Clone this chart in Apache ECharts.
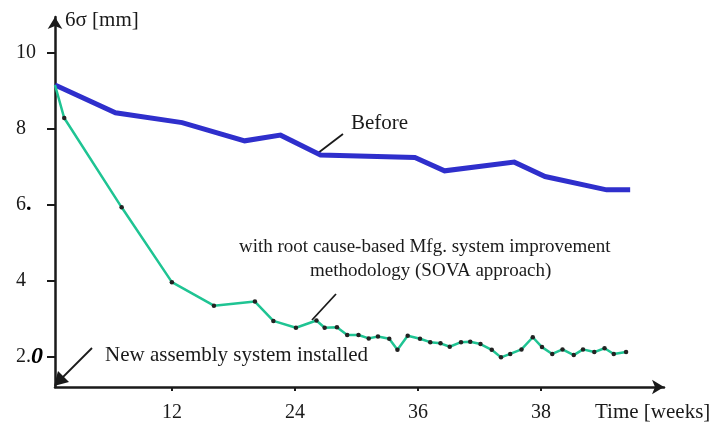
<!DOCTYPE html>
<html>
<head>
<meta charset="utf-8">
<script src="https://cdn.jsdelivr.net/npm/echarts@6/dist/echarts.min.js"></script>
<style>
  html, body { margin: 0; padding: 0; background: #fff; }
  #main { width: 714px; height: 425px; }
</style>
</head>
<body>
<div id="main"></div>
<script>
// x tick positions (weeks) and the labels printed under them
const xTickValues = [12, 24, 36, 48];
const xTickLabels = ['12', '24', '36', '38'];
// y tick positions and labels
const yTickValues = [2, 4, 6, 8, 10];
const yTickLabels = ['2.0', '4', '6.', '8', '10'];

// "Before" series [week, 6 sigma]
const beforeData = [
  [0.6, 9.15], [6.5, 8.42], [13.0, 8.16], [19.1, 7.68], [22.6, 7.83],
  [26.5, 7.31], [35.7, 7.24], [38.6, 6.89], [45.4, 7.12], [48.4, 6.74],
  [54.4, 6.39], [56.7, 6.39]
];

// "with root cause-based ..." series [week, 6 sigma]
const sovaData = [
  [0.6, 9.15], [1.5, 8.28], [7.1, 5.93], [12.0, 3.96], [16.1, 3.34],
  [20.1, 3.45], [21.9, 2.94], [24.1, 2.76], [26.1, 2.95], [26.9, 2.76],
  [28.1, 2.77], [29.1, 2.57], [30.2, 2.57], [31.2, 2.48], [32.1, 2.53],
  [33.2, 2.47], [34.0, 2.18], [35.0, 2.55], [36.2, 2.47], [37.2, 2.38],
  [38.2, 2.35], [39.1, 2.26], [40.2, 2.38], [41.1, 2.39], [42.1, 2.33],
  [43.2, 2.18], [44.1, 1.98], [45.0, 2.07], [46.1, 2.19], [47.2, 2.51],
  [48.1, 2.25], [49.1, 2.07], [50.1, 2.19], [51.2, 2.04], [52.1, 2.19],
  [53.2, 2.12], [54.2, 2.22], [55.1, 2.07], [56.3, 2.12]
];

const serif = '"Liberation Serif", "DejaVu Serif", serif';
const ink = '#1a1a1a';

let chart = echarts.init(document.getElementById('main'), null, { renderer: 'canvas' });

function note(x, y, text, size) {
  return {
    type: 'text', x: x, y: y,
    style: { text: text, font: size + 'px ' + serif, fill: ink, verticalAlign: 'middle', align: 'left' }
  };
}

let option = {
  backgroundColor: '#fff',
  animation: false,
  grid: { left: 55, right: 50, top: 17, bottom: 38 },
  xAxis: {
    type: 'value',
    min: 0.6,
    max: 60,
    splitLine: { show: false },
    axisLine: {
      lineStyle: { color: ink, width: 2.5 },
      symbol: ['none', 'arrow'],
      symbolSize: [11, 12]
    },
    axisTick: {
      customValues: xTickValues,
      length: 4,
      lineStyle: { color: ink, width: 2 }
    },
    axisLabel: {
      customValues: xTickValues,
      margin: 16,
      fontFamily: serif,
      fontSize: 20,
      color: ink,
      formatter: function (v) {
        let i = xTickValues.indexOf(v);
        return i >= 0 ? xTickLabels[i] : '';
      }
    }
  },
  yAxis: {
    type: 'value',
    min: 1.2,
    max: 10.94,
    splitLine: { show: false },
    axisLine: {
      lineStyle: { color: ink, width: 2.5 },
      symbol: ['none', 'arrow'],
      symbolSize: [11, 12]
    },
    axisTick: {
      customValues: yTickValues,
      length: 8,
      lineStyle: { color: ink, width: 2 }
    },
    axisLabel: {
      customValues: yTickValues,
      margin: 39,
      align: 'left',
      fontFamily: serif,
      fontSize: 20,
      color: ink,
      formatter: function (v) {
        let i = yTickValues.indexOf(v);
        let s = i >= 0 ? yTickLabels[i] : '';
        if (s === '2.0') return '2.{bi|0}';
        if (s === '6.') return '6{b|.}';
        return s;
      },
      rich: {
        bi: { fontFamily: serif, fontSize: 24, fontWeight: 'bold', fontStyle: 'italic', color: '#000' },
        b: { fontFamily: serif, fontSize: 22, fontWeight: 'bold', color: '#000' }
      }
    }
  },
  series: [
    {
      name: 'Before',
      type: 'line',
      data: beforeData,
      showSymbol: false,
      symbol: 'none',
      lineStyle: { color: '#2f2fcc', width: 5, join: 'miter' },
      z: 2
    },
    {
      name: 'SOVA',
      type: 'line',
      data: sovaData.map(function (p, i) {
        return i === 0 ? { value: p, symbol: 'none' } : p;
      }),
      symbol: 'circle',
      symbolSize: 4.5,
      showAllSymbol: true,
      itemStyle: { color: '#222', borderWidth: 0 },
      lineStyle: { color: '#1fc493', width: 2.5 },
      z: 3
    }
  ],
  graphic: [
    // axis names
    note(65, 20, '6σ [mm]', 21),
    note(595, 412, 'Time [weeks]', 21),
    // "Before" annotation
    note(351, 123, 'Before', 21),
    { type: 'line', shape: { x1: 343, y1: 134, x2: 318, y2: 153 }, style: { stroke: ink, lineWidth: 1.8 } },
    // SOVA annotation
    note(239, 247, 'with root cause-based Mfg. system improvement', 19),
    note(310, 271, 'methodology (SOVA approach)', 19),
    { type: 'line', shape: { x1: 336, y1: 294, x2: 312, y2: 320 }, style: { stroke: ink, lineWidth: 1.8 } },
    // installation arrow
    note(105, 355, 'New assembly system installed', 21),
    { type: 'line', shape: { x1: 92, y1: 348, x2: 60, y2: 380 }, style: { stroke: ink, lineWidth: 1.8 } },
    { type: 'polygon', shape: { points: [[54, 386], [58, 371], [69, 382]] }, style: { fill: ink } }
  ]
};

chart.setOption(option);
</script>
</body>
</html>
